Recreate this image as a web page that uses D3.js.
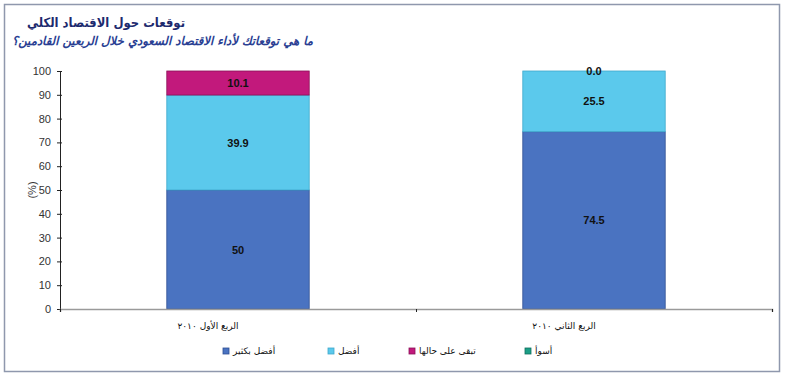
<html>
<meta charset="utf-8" />
<head>
<title>توقعات حول الاقتصاد الكلي</title>
<script src="https://cdn.jsdelivr.net/npm/d3@7"></script>
<style>
	body { margin: 0; background: #fff; }
	svg { display: block; }
	.arabic { font-family: "DejaVu Sans", sans-serif; }
	.num { font-family: "Liberation Sans", Arial, sans-serif; }
</style>
<script>
// data
let quarters = ['الربع الأول ٢٠١٠', 'الربع الثاني ٢٠١٠'];
let seriesNames = ['أفضل بكثير', 'أفضل', 'تبقى على حالها', 'أسوأ'];
let muchBetter = [50, 74.5];
let better = [39.9, 25.5];
let same = [10.1, 0.0];
let worse = [0, 0];
let valueLabels = [['50', '74.5'], ['39.9', '25.5'], ['10.1', '0.0'], null];
let yTicks = [0, 10, 20, 30, 40, 50, 60, 70, 80, 90, 100];
let colors = ['#4a73c1', '#5bc9ec', '#c2197c', '#1b9e86'];
let strokes = ['#2f4f93', '#3fa9cc', '#8a0f57', '#0f6e5e'];

window.onload = function() {
	let svg = d3.select('svg');

	// outer frame
	svg.append('rect').attr('x', 4.5).attr('y', 4.5).attr('width', 775).attr('height', 367)
		.attr('fill', '#fff').attr('stroke', '#8f98ad').attr('stroke-width', 1.5);

	// titles (rtl: start = right edge)
	svg.append('text').attr('class', 'arabic').attr('direction', 'rtl')
		.attr('x', 185).attr('y', 27).attr('text-anchor', 'start')
		.attr('textLength', 158).attr('lengthAdjust', 'spacingAndGlyphs')
		.style('font-size', '13px').style('font-weight', 'bold').attr('fill', '#1d2a6e')
		.text('توقعات حول الاقتصاد الكلي');
	svg.append('text').attr('class', 'arabic').attr('direction', 'rtl')
		.attr('x', 313).attr('y', 45).attr('text-anchor', 'start')
		.attr('textLength', 301).attr('lengthAdjust', 'spacingAndGlyphs')
		.style('font-size', '12px').style('font-weight', 'bold').style('font-style', 'italic')
		.attr('fill', '#2a3f93')
		.text('ما هي توقعاتك لأداء الاقتصاد السعودي خلال الربعين القادمين؟');

	let xScale = d3.scaleBand().domain(quarters).range([60, 772]).paddingInner(0.6).paddingOuter(0.3);
	let yScale = d3.scaleLinear().domain([0, 100]).range([309, 71]);

	// stacked values
	let rows = quarters.map((q, i) => ({
		q: q, s0: muchBetter[i], s1: better[i], s2: same[i], s3: worse[i]
	}));
	let stack = d3.stack().keys(['s0', 's1', 's2', 's3'])(rows);

	// y axis
	let yAxis = d3.axisLeft(yScale).tickValues(yTicks).tickSize(3).tickPadding(6);
	let yG = svg.append('g').attr('transform', 'translate(60,0)').call(yAxis);
	yG.select('.domain').attr('stroke', '#222');
	yG.selectAll('.tick line').attr('stroke', '#222').attr('x2', 2).attr('x1', -3);
	yG.selectAll('.tick text').attr('class', 'num').style('font-size', '11px').attr('fill', '#333');

	svg.append('text').attr('class', 'num')
		.attr('transform', 'translate(36,' + yScale(50) + ') rotate(-90)')
		.attr('text-anchor', 'middle').style('font-size', '11px').attr('fill', '#333')
		.text('(%)');

	// bars
	stack.forEach((layer, k) => {
		svg.append('g').selectAll('rect').data(layer).join('rect')
			.attr('x', (d) => xScale(d.data.q))
			.attr('width', xScale.bandwidth())
			.attr('y', (d) => yScale(d[1]))
			.attr('height', (d) => yScale(d[0]) - yScale(d[1]))
			.attr('fill', colors[k])
			.attr('stroke', strokes[k]).attr('stroke-width', 0.8);
	});

	// value labels
	stack.forEach((layer, k) => {
		if (!valueLabels[k]) return;
		svg.append('g').selectAll('text').data(layer).join('text')
			.attr('class', 'num')
			.attr('x', (d) => xScale(d.data.q) + xScale.bandwidth() / 2)
			.attr('y', (d) => yScale((d[0] + d[1]) / 2) + 4)
			.attr('text-anchor', 'middle')
			.style('font-size', '11px').style('font-weight', 'bold').attr('fill', '#111')
			.text((d, i) => valueLabels[k][i]);
	});

	// x axis
	let xLine = d3.scaleLinear().domain([0, quarters.length]).range([60, 772]);
	let xAxis = d3.axisBottom(xLine).tickValues([0, 1, 2]).tickSize(3).tickFormat('');
	let xG = svg.append('g').attr('transform', 'translate(0,309)').call(xAxis);
	xG.select('.domain').attr('stroke', '#9a9a9a').attr('stroke-width', 1.5);
	xG.selectAll('.tick line').attr('stroke', '#222');

	svg.append('g').selectAll('text').data(quarters).join('text')
		.attr('class', 'arabic').attr('direction', 'rtl')
		.attr('x', (d) => xScale(d) + xScale.bandwidth() / 2 - 30)
		.attr('y', 329).attr('text-anchor', 'middle')
		.style('font-size', '9px').attr('fill', '#111')
		.text((d) => d);

	// legend
	let legendX = [223, 328, 409, 525];
	let lg = svg.append('g').selectAll('g').data(seriesNames).join('g')
		.attr('transform', (d, i) => 'translate(' + legendX[i] + ',351)');
	lg.append('rect').attr('x', 0).attr('y', -3).attr('width', 6).attr('height', 6)
		.attr('fill', (d, i) => colors[i]).attr('stroke', (d, i) => strokes[i]).attr('stroke-width', 0.8);
	lg.append('text').attr('class', 'arabic').attr('direction', 'rtl')
		.attr('x', 10).attr('y', 3).attr('text-anchor', 'end')
		.style('font-size', '9px').attr('fill', '#111')
		.text((d) => d);
}
</script>
</head>
<body>
<svg width="788" height="377"></svg>
</body>
</html>
